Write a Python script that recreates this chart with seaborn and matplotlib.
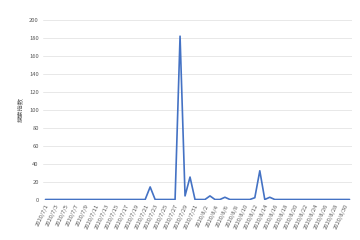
import matplotlib
matplotlib.use("Agg")
import matplotlib.pyplot as plt
import seaborn as sns
import pandas as pd
import numpy as np

dates = [f"2020/7/{d}" for d in range(1, 32)] + [f"2020/8/{d}" for d in range(1, 32)]
values = [0]*21 + [14, 0, 0, 0, 0, 0, 182, 4, 25, 0, 0, 0, 4, 0, 0, 2.5, 0, 0, 0, 0, 0, 2, 32, 0, 2.5] + [0]*16
ylabel = "搜索指数"
yticks = list(range(0, 201, 20))

sns.set_theme(style="white")
plt.rcParams['font.family'] = ['Noto Sans CJK SC', 'DejaVu Sans']

df = pd.DataFrame({"date": dates, "value": values})
df["idx"] = np.arange(len(df))

fig = plt.figure(figsize=(3.6, 2.4), dpi=100)
ax = fig.add_axes([43/360, 1 - 199.5/240, (352-43)/360, (199.5-20)/240])
sns.lineplot(data=df, x="idx", y="value", ax=ax, color="#4472C4", linewidth=1.2)

ax.set_ylim(0, 200)
ax.set_yticks(yticks)
ax.set_xlim(-0.5, len(dates) - 0.5)
ax.set_xticks(df["idx"][::2])
ax.set_xticklabels(df["date"][::2], rotation=65, ha="right", rotation_mode="anchor")
ax.tick_params(axis="both", labelsize=4.2, colors="#595959", length=0, pad=3)
ax.yaxis.grid(True, color="#E4E4E4", linewidth=0.6)
ax.set_axisbelow(True)
for s in ax.spines.values():
    s.set_visible(False)
ax.set_xlabel("")
ax.set_ylabel(ylabel, fontsize=4.5, color="#595959", labelpad=4)

fig.savefig("out.png", dpi=100)
